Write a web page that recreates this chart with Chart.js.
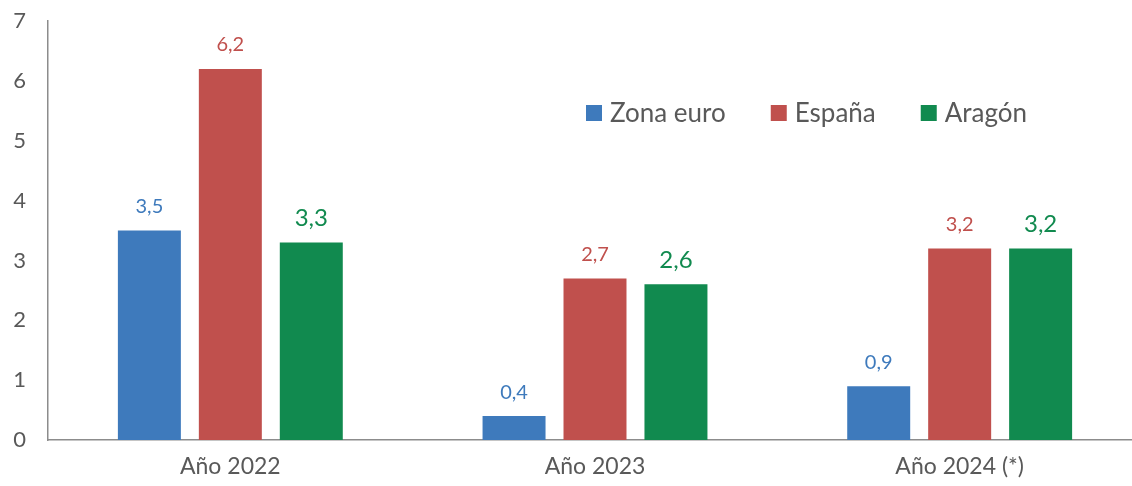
<!DOCTYPE html>
<html>
<head>
<meta charset="utf-8">
<script src="https://cdn.jsdelivr.net/npm/chart.js@4"></script>
<style>
  html, body { margin: 0; padding: 0; background: #fff; overflow: hidden; }
  #wrap { width: 1142px; height: 486px; }
</style>
</head>
<body>
<div id="wrap"><canvas id="inflacionChart"></canvas></div>
<script>
// Datos
const categorias = ['Año 2022', 'Año 2023', 'Año 2024 (*)'];
const zonaEuro = [3.5, 0.4, 0.9];
const espana = [6.2, 2.7, 3.2];
const aragon = [3.3, 2.6, 3.2];
const ticksY = [0, 1, 2, 3, 4, 5, 6, 7];

const FUENTE = 'Lato, "Open Sans", sans-serif';
const GRIS = '#595959';

// etiquetas encima de cada barra
const etiquetasPlugin = {
    id: 'etiquetas',
    afterDatasetsDraw(chart) {
        const ctx = chart.ctx;
        chart.data.datasets.forEach(function (ds, i) {
            const meta = chart.getDatasetMeta(i);
            ctx.save();
            ctx.fillStyle = ds.backgroundColor;
            ctx.font = ds.labelSize + 'px ' + FUENTE;
            ctx.textAlign = 'center';
            ctx.textBaseline = 'middle';
            meta.data.forEach(function (bar, j) {
                const txt = ds.data[j].toFixed(1).replace('.', ',');
                ctx.fillText(txt, bar.x, bar.y - 24);
            });
            ctx.restore();
        });
    }
};

// leyenda dentro del área del gráfico
const leyendaPlugin = {
    id: 'leyendaInterna',
    afterDraw(chart) {
        const ctx = chart.ctx;
        let x = 586;
        const y = 113;
        ctx.save();
        ctx.font = '26px ' + FUENTE;
        ctx.textBaseline = 'middle';
        chart.data.datasets.forEach(function (ds) {
            ctx.fillStyle = ds.backgroundColor;
            ctx.fillRect(x, y - 8, 16, 16);
            ctx.fillStyle = GRIS;
            ctx.fillText(ds.label, x + 24, y + 1);
            x += 24 + ctx.measureText(ds.label).width + 45;
        });
        ctx.restore();
    }
};

new Chart(document.getElementById('inflacionChart'), {
    type: 'bar',
    data: {
        labels: categorias,
        datasets: [
            { label: 'Zona euro', data: zonaEuro, backgroundColor: '#3E7ABC', labelSize: 20 },
            { label: 'España', data: espana, backgroundColor: '#C0504D', labelSize: 20 },
            { label: 'Aragón', data: aragon, backgroundColor: '#118A4F', labelSize: 24 }
        ]
    },
    options: {
        responsive: true,
        maintainAspectRatio: false,
        animation: false,
        categoryPercentage: 0.666,
        barPercentage: 0.778,
        layout: { padding: { top: 21, right: 0, left: 0, bottom: 0 } },
        plugins: {
            legend: { display: false },
            tooltip: { enabled: false }
        },
        scales: {
            x: {
                grid: { display: false, drawTicks: false },
                border: { display: true, color: '#8c8c8c', width: 1.5 },
                ticks: { color: GRIS, font: { family: FUENTE, size: 23 }, padding: 13 },
                afterFit: function (scale) {
                    scale.height = 46;
                    scale.paddingLeft = 0;
                    scale.paddingRight = 0;
                }
            },
            y: {
                min: 0,
                max: 7,
                afterBuildTicks: function (scale) {
                    scale.ticks = ticksY.map(v => ({ value: v }));
                },
                grid: { display: false, drawTicks: false },
                border: { display: true, color: '#8c8c8c', width: 1.5 },
                ticks: { color: GRIS, font: { family: FUENTE, size: 22 }, padding: 22 },
                afterFit: function (scale) {
                    scale.width = 48;
                    scale.paddingTop = 0;
                    scale.paddingBottom = 0;
                }
            }
        }
    },
    plugins: [etiquetasPlugin, leyendaPlugin]
});
</script>
</body>
</html>
